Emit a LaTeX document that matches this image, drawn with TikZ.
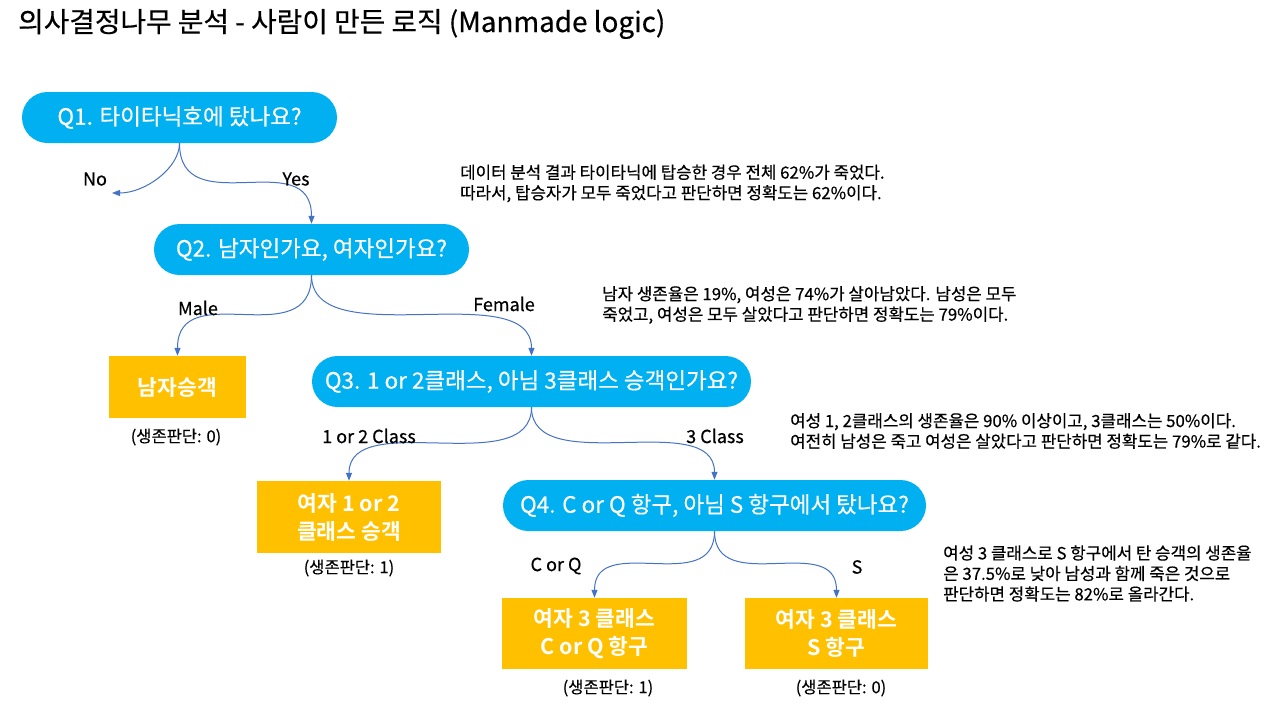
\documentclass[tikz,border=0pt]{standalone}
\usepackage{fontspec}
\setmainfont{Noto Sans CJK KR}[FakeBold=0.4]
\newfontfamily\leaffont{Noto Sans CJK KR Bold}
\usetikzlibrary{arrows.meta}
\definecolor{qblue}{HTML}{00B0F0}
\definecolor{leafc}{HTML}{FFC000}
\definecolor{connc}{HTML}{4472C4}
\begin{document}
\begin{tikzpicture}[x=1pt,y=-1pt,
 question/.style={rectangle, rounded corners=25.5pt, fill=qblue, text=white, minimum height=51pt, inner sep=0pt, font=\fontsize{22.5}{26}\selectfont},
 leafbox/.style={rectangle, fill=leafc, text=white, inner sep=0pt, align=center, font=\leaffont\fontsize{21.5}{28}\selectfont},
 edgelabel/.style={font=\fontsize{18}{21}\selectfont, inner sep=0pt},
 verdict/.style={font=\fontsize{16.5}{19}\selectfont, inner sep=0pt},
 note/.style={font=\fontsize{16.8}{20.5}\selectfont, inner sep=0pt, anchor=west, align=left},
 arrowline/.style={draw=connc, line width=1pt, -{Triangle[length=8pt,width=6pt]}},
]
\useasboundingbox (0,0) rectangle (1280,707);
\fill[white] (0,0) rectangle (1280,707);

\node[anchor=west, inner sep=0pt, font=\fontsize{27.8}{32}\selectfont] (title) at (18,24) {의사결정나무 분석 - 사람이 만든 로직 (Manmade logic)};

\node[question, minimum width=315pt] (q1) at (179.5,117.5) {Q1. 타이타닉호에 탔나요?};
\node[question, minimum width=315pt] (q2) at (311.5,249.5) {Q2. 남자인가요, 여자인가요?};
\node[question, minimum width=439pt] (q3) at (531.5,381.5) {Q3. 1 or 2클래스, 아님 3클래스 승객인가요?};
\node[question, minimum width=423pt] (q4) at (714.5,505.5) {Q4. C or Q 항구, 아님 S 항구에서 탔나요?};

\node[leafbox, minimum width=137pt, minimum height=62pt] (m) at (177.5,387) {남자승객};
\node[leafbox, minimum width=184pt, minimum height=72pt] (f12) at (349,517) {여자 1 or 2\\클래스 승객};
\node[leafbox, minimum width=185pt, minimum height=71pt] (f3cq) at (594.5,633.5) {여자 3 클래스\\C or Q 항구};
\node[leafbox, minimum width=183pt, minimum height=71pt] (f3s) at (836.5,633.5) {여자 3 클래스\\S 항구};

\coordinate (noend) at (112,193);
\draw[arrowline] (q1.south) .. controls +(0,25) and +(33,0) .. (noend);
\draw[arrowline] (q1.south) .. controls (q1.south |- q2.north) and (q2.north |- q1.south) .. (q2.north);
\draw[arrowline] (q2.south) .. controls (q2.south |- m.north) and (m.north |- q2.south) .. (m.north);
\draw[arrowline] (q2.south) .. controls (q2.south |- q3.north) and (q3.north |- q2.south) .. (q3.north);
\draw[arrowline] (q3.south) .. controls (q3.south |- f12.north) and (f12.north |- q3.south) .. (f12.north);
\draw[arrowline] (q3.south) .. controls (q3.south |- q4.north) and (q4.north |- q3.south) .. (q4.north);
\draw[arrowline] (q4.south) .. controls (q4.south |- f3cq.north) and (f3cq.north |- q4.south) .. (f3cq.north);
\draw[arrowline] (q4.south) .. controls (q4.south |- f3s.north) and (f3s.north |- q4.south) .. (f3s.north);

\node[edgelabel] (lno) at (95,179) {No};
\node[edgelabel] (lyes) at (296,179) {Yes};
\node[edgelabel] (lmale) at (198,308) {Male};
\node[edgelabel] (lfemale) at (504,304) {Female};
\node[edgelabel] (l12) at (369,436) {1 or 2 Class};
\node[edgelabel] (l3) at (715,436) {3 Class};
\node[edgelabel] (lcq) at (556,566) {C or Q};
\node[edgelabel] (ls) at (857,567) {S};

\node[verdict] (v1) at (176,437) {(생존판단: 0)};
\node[verdict] (v2) at (349,568) {(생존판단: 1)};
\node[verdict] (v3) at (608,688) {(생존판단: 1)};
\node[verdict] (v4) at (841,688) {(생존판단: 0)};

\node[note] (n1) at (460,183.5) {데이터 분석 결과 타이타닉에 탑승한 경우 전체 62\%가 죽었다.\\따라서, 탑승자가 모두 죽었다고 판단하면 정확도는 62\%이다.};
\node[note] (n2) at (602,305) {남자 생존율은 19\%, 여성은 74\%가 살아남았다. 남성은 모두\\죽었고, 여성은 모두 살았다고 판단하면 정확도는 79\%이다.};
\node[note] (n3) at (790,431) {여성 1, 2클래스의 생존율은 90\% 이상이고, 3클래스는 50\%이다.\\여전히 남성은 죽고 여성은 살았다고 판단하면 정확도는 79\%로 같다.};
\node[note] (n4) at (943,573.5) {여성 3 클래스로 S 항구에서 탄 승객의 생존율\\은 37.5\%로 낮아 남성과 함께 죽은 것으로\\판단하면 정확도는 82\%로 올라간다.};
\end{tikzpicture}
\end{document}
